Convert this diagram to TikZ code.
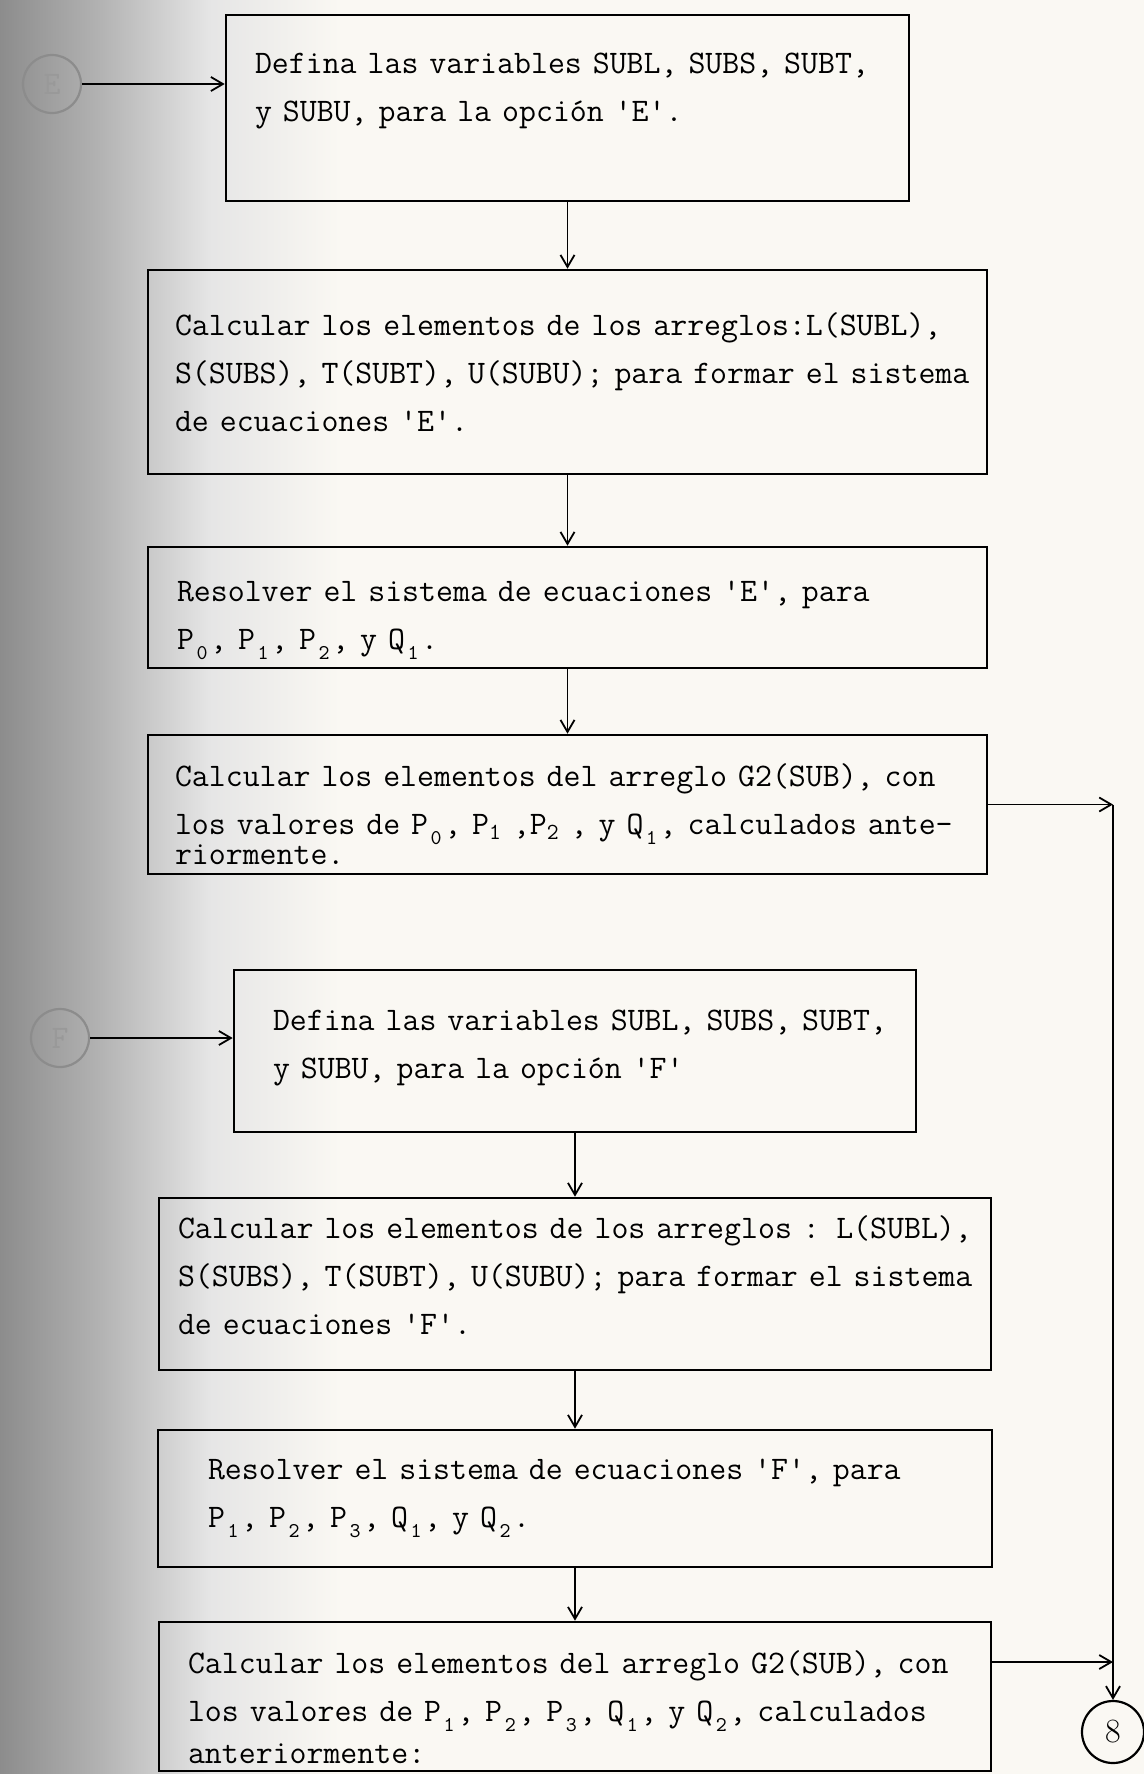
\documentclass[tikz,border=0pt]{standalone}
\usepackage{tikz}
\usetikzlibrary{positioning, arrows.meta}
\definecolor{paper}{RGB}{250,248,243}
\newcommand{\boxfont}{\fontsize{16.45pt}{24pt}\selectfont\ttfamily}
\newcommand{\ix}[1]{\makebox[0.492em]{\raisebox{-5pt}{\fontsize{10.5pt}{10.5pt}\selectfont #1}}}
\newcommand{\toppad}[1]{\rule{0pt}{#1}}
\newcommand{\botpad}[1]{\rule[-#1]{0pt}{#1}}
\newcommand{\tq}{\textquotesingle}
\tikzstyle{processBox} = [rectangle, draw=black, line width=1.3pt, align=left, inner ysep=0pt, font=\boxfont]
\tikzstyle{connNode} = [circle, draw=black!45, line width=1.1pt, minimum size=29pt, inner sep=0pt, text=black!40, font=\boxfont]
\tikzstyle{exitNode} = [circle, draw=black, line width=1.1pt, minimum size=31pt, inner sep=0pt, font=\fontsize{17pt}{17pt}\selectfont]
\tikzstyle{arrow} = [line width=0.9pt, -{Straight Barb[length=6pt, width=7pt]}]

\begin{document}
\begin{tikzpicture}[x=0.5pt, y=-0.5pt]
% page with the scan shadow on the left
\fill [paper] (0,0) rectangle (1144,1774);
\shade [left color=black!45, right color=black!30] (0,0) rectangle (100,1774);
\shade [left color=black!30, right color=black!10] (100,0) rectangle (210,1774);
\shade [left color=black!10, right color=paper] (210,0) rectangle (340,1774);
\useasboundingbox (0,0) rectangle (1144,1774);

% option E
\node (1) [processBox, minimum width=341.5pt, minimum height=93pt, inner xsep=14.5pt, text width=312.5pt] at (567.5,108)
  {\mbox{Defina las variables SUBL, SUBS, SUBT,}\\ \mbox{y SUBU, para la opción \tq E\tq.}\botpad{21pt}};
\node (2) [processBox, node distance=132pt, below of=1, minimum width=419.5pt, minimum height=102pt, inner xsep=13.5pt, text width=392.5pt]
  {\mbox{Calcular los elementos de los arreglos:L(SUBL),}\\ \mbox{S(SUBS), T(SUBT), U(SUBU); para formar el sistema}\\ \mbox{de ecuaciones \tq E\tq.}};
\node (3) [processBox, node distance=117.75pt, below of=2, minimum width=419.5pt, minimum height=60.5pt, inner xsep=14.5pt, text width=390.5pt]
  {\toppad{23pt}\mbox{Resolver el sistema de ecuaciones \tq E\tq, para}\\ \mbox{P\ix{0}, P\ix{1}, P\ix{2}, y Q\ix{1}.}};
\node (4) [processBox, node distance=98.5pt, below of=3, minimum width=419.5pt, minimum height=69.5pt, inner xsep=13.5pt, text width=392.5pt]
  {\toppad{21pt}\mbox{Calcular los elementos del arreglo G2(SUB), con}\\ \mbox{los valores de P\ix{0}, P\textsubscript{1} ,P\textsubscript{2} , y Q\ix{1}, calculados ante-}\\[-9pt] \mbox{riormente.}};

% option F
\node (5) [processBox, node distance=123.25pt, below of=4, xshift=3.75pt, minimum width=341pt, minimum height=81pt, inner xsep=19.5pt, text width=302pt]
  {\mbox{Defina las variables SUBL, SUBS, SUBT,}\\ \mbox{y SUBU, para la opción \tq F\tq}\botpad{7pt}};
\node (6) [processBox, node distance=116.5pt, below of=5, minimum width=416pt, minimum height=86pt, inner xsep=9.5pt, text width=397pt]
  {\mbox{Calcular los elementos de los arreglos : L(SUBL),}\\ \mbox{S(SUBS), T(SUBT), U(SUBU); para formar el sistema}\\ \mbox{de ecuaciones \tq F\tq.}\botpad{8.6pt}};
\node (7) [processBox, node distance=107.25pt, below of=6, minimum width=417pt, minimum height=68.5pt, inner xsep=25pt, text width=367pt]
  {\mbox{Resolver el sistema de ecuaciones \tq F\tq, para}\\ \mbox{P\ix{1}, P\ix{2}, P\ix{3}, Q\ix{1}, y Q\ix{2}.}};
\node (8) [processBox, node distance=99pt, below of=7, minimum width=416pt, minimum height=74.5pt, inner xsep=14.5pt, text width=387pt]
  {\toppad{22pt}\mbox{Calcular los elementos del arreglo G2(SUB), con}\\ \mbox{los valores de P\ix{1}, P\ix{2}, P\ix{3}, Q\ix{1}, y Q\ix{2}, calculados}\\[-3pt] \mbox{anteriormente:}};

% connectors
\node (E) [connNode] at (52,84) {E};
\node (F) [connNode] at (60,1038) {F};
\node (c8) [exitNode] at (1113,1732) {8};

\draw [arrow] (E) -- (E -| 1.west);
\draw [arrow] (F) -- (F -| 5.west);
\draw [arrow] (1) -- (2);
\draw [arrow] (2) -- (3);
\draw [arrow] (3) -- (4);
\draw [arrow] (5) -- (6);
\draw [arrow] (6) -- (7);
\draw [arrow] (7) -- (8);
\draw [arrow] (4.east) -- (4.east -| c8);
\draw [arrow] (4.east -| c8) -- (c8);
\draw [arrow] ([yshift=17.25pt]8.east) -- ([yshift=17.25pt]8.east -| c8);
\end{tikzpicture}
\end{document}
